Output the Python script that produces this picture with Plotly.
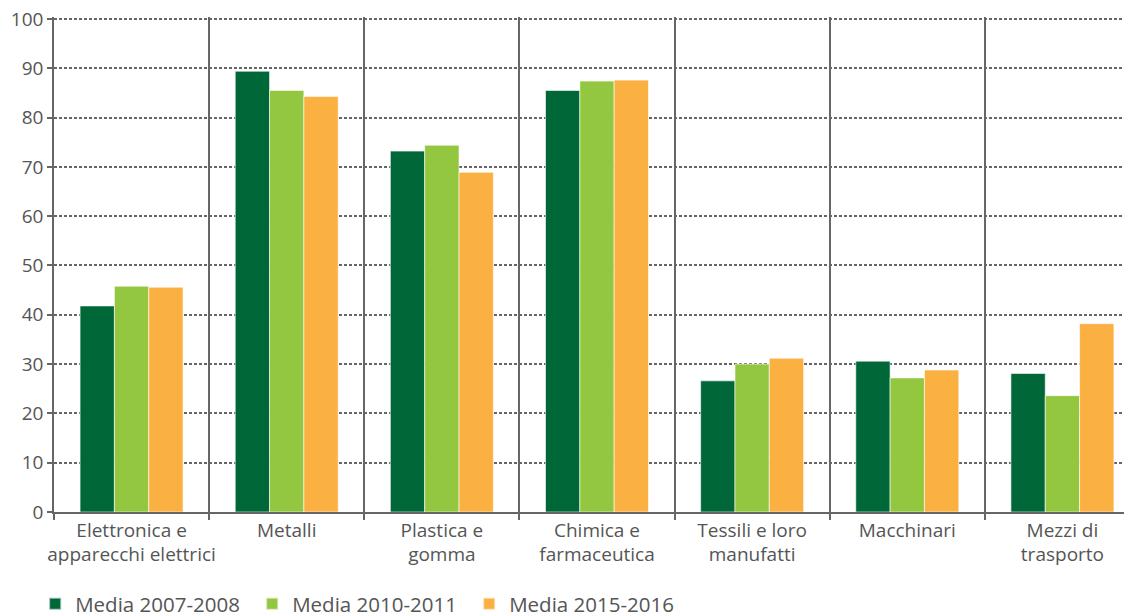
import plotly.graph_objects as go

categories = ["Elettronica e<br>apparecchi elettrici", "Metalli", "Plastica e<br>gomma",
              "Chimica e<br>farmaceutica", "Tessili e loro<br>manufatti", "Macchinari",
              "Mezzi di<br>trasporto"]
series_names = ["Media 2007-2008", "Media 2010-2011", "Media 2015-2016"]
media_2007_2008 = [41.8, 89.4, 73.2, 85.5, 26.6, 30.6, 28.1]
media_2010_2011 = [45.8, 85.5, 74.4, 87.4, 30.0, 27.2, 23.6]
media_2015_2016 = [45.6, 84.3, 68.9, 87.6, 31.2, 28.8, 38.2]
colors = ["#006838", "#92C73F", "#FBB042"]
y_ticks = [0, 10, 20, 30, 40, 50, 60, 70, 80, 90, 100]

FONT = "Open Sans"
fig = go.Figure()
for name, vals, col in zip(series_names, [media_2007_2008, media_2010_2011, media_2015_2016], colors):
    fig.add_trace(go.Bar(x=categories, y=vals, name=name, marker_color=col,
                         marker_line=dict(color="rgba(255,255,255,0.6)", width=1)))

fig.update_layout(
    width=1132, height=616,
    margin=dict(l=46, r=0, t=9, b=112, autoexpand=False),
    paper_bgcolor="white", plot_bgcolor="white",
    barmode="group", bargap=0.336, bargroupgap=0,
    font=dict(family=FONT, size=20, color="#555555"),
    showlegend=True,
    legend=dict(orientation="h", xref="container", yref="container",
                x=0.024, xanchor="left", y=0.0325, yanchor="middle",
                font=dict(size=20.5, color="#555555"), itemsizing="constant",
                traceorder="normal", itemwidth=30, entrywidthmode="pixels", entrywidth=172),
)
fig.update_xaxes(
    range=[-0.5, 6.5], tickson="boundaries", showgrid=True, gridcolor="#666666", gridwidth=1.5,
    ticks="outside", ticklen=6, tickcolor="#666666", tickwidth=1.5, tickangle=0,
    showline=True, linecolor="#666666", linewidth=1.5, automargin=False,
    tickfont=dict(size=19, color="#555555"), fixedrange=True,
)
fig.update_yaxes(
    range=[0, 100.4], tickvals=y_ticks, showgrid=True, gridcolor="#666666", gridwidth=1.5,
    griddash="3px,2px", ticks="outside", ticklen=5, tickcolor="#666666", tickwidth=1.5,
    showline=True, linecolor="#666666", linewidth=1.5, zeroline=False, automargin=False,
    ticklabeloverflow="allow",
    tickfont=dict(size=19, color="#555555"), fixedrange=True,
)
fig.write_html("out.html")
